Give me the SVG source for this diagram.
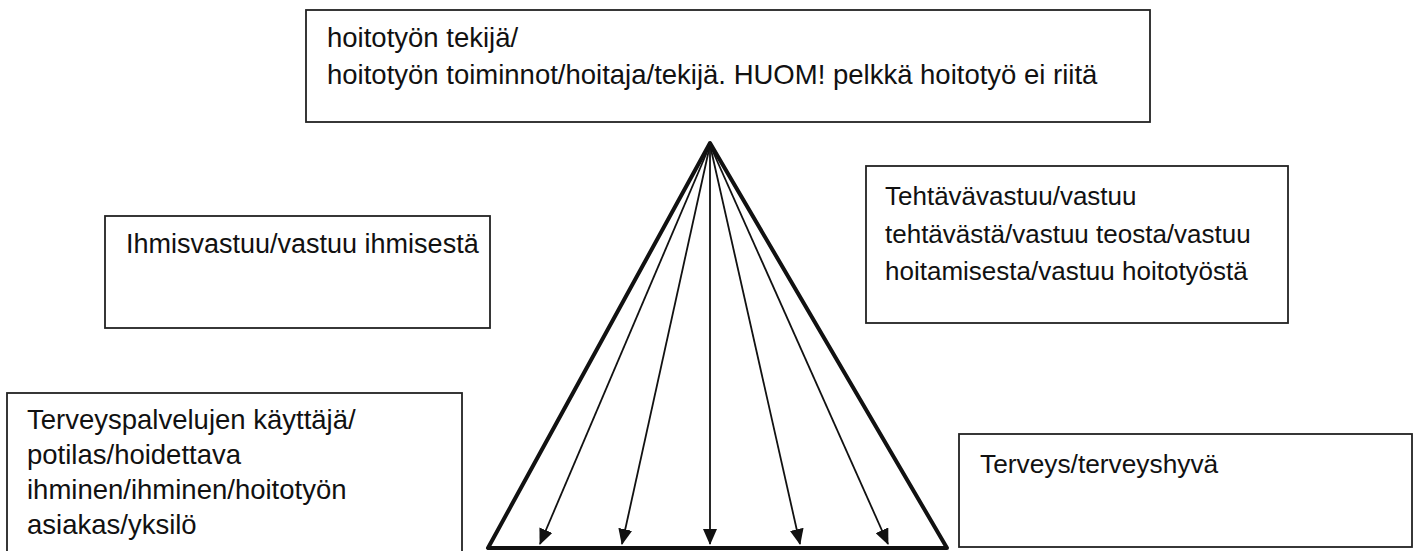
<svg xmlns="http://www.w3.org/2000/svg" width="1421" height="551" viewBox="0 0 1421 551">
  <style>
    .box { fill: #ffffff; stroke: #222; stroke-width: 1.8; }
    .t { font-family: "Liberation Sans", Arial, sans-serif; fill: #111; }
    .edge { stroke: #111; stroke-width: 4; fill: none; stroke-linecap: round; stroke-linejoin: round; }
    .arrow { stroke: #111; stroke-width: 1.8; fill: none; }
  </style>
  <defs>
    <marker id="ah" markerWidth="16" markerHeight="14" refX="15" refY="7" orient="auto" markerUnits="userSpaceOnUse">
      <path d="M0,0 L16,7 L0,14 Z" fill="#111"/>
    </marker>
  </defs>
  <rect width="1421" height="551" fill="#ffffff"/>

  <g id="node-tekija">
    <rect class="box" x="306" y="10" width="844" height="112"/>
    <text class="t" x="327" y="47" font-size="27.5">hoitotyön tekijä/</text>
    <text class="t" x="327" y="84" font-size="27.5">hoitotyön toiminnot/hoitaja/tekijä. HUOM! pelkkä hoitotyö ei riitä</text>
  </g>

  <g id="node-ihmisvastuu">
    <rect class="box" x="105" y="216" width="385" height="112"/>
    <text class="t" x="126" y="253" font-size="27">Ihmisvastuu/vastuu ihmisestä</text>
  </g>

  <g id="node-tehtavavastuu">
    <rect class="box" x="866" y="166" width="422" height="157"/>
    <text class="t" x="885" y="205" font-size="26">Tehtävävastuu/vastuu</text>
    <text class="t" x="885" y="243" font-size="26">tehtävästä/vastuu teosta/vastuu</text>
    <text class="t" x="885" y="280" font-size="26">hoitamisesta/vastuu hoitotyöstä</text>
  </g>

  <g id="node-kayttaja">
    <rect class="box" x="7" y="393" width="455" height="165"/>
    <text class="t" x="27" y="429" font-size="27.5">Terveyspalvelujen käyttäjä/</text>
    <text class="t" x="27" y="464" font-size="27.5">potilas/hoidettava</text>
    <text class="t" x="27" y="499" font-size="27.5">ihminen/ihminen/hoitotyön</text>
    <text class="t" x="27" y="534" font-size="27.5">asiakas/yksilö</text>
  </g>

  <g id="node-terveys">
    <rect class="box" x="959" y="434" width="453" height="113"/>
    <text class="t" x="980" y="473" font-size="26.3">Terveys/terveyshyvä</text>
  </g>

  <g id="node-triangle">
    <path class="edge" d="M710,143 L488,548 L947,548 Z"/>
  </g>

  <g id="connectors">
    <line class="arrow" x1="710" y1="145" x2="540" y2="544" marker-end="url(#ah)"/>
    <line class="arrow" x1="710" y1="145" x2="622" y2="544" marker-end="url(#ah)"/>
    <line class="arrow" x1="710" y1="145" x2="710" y2="544" marker-end="url(#ah)"/>
    <line class="arrow" x1="710" y1="145" x2="800" y2="544" marker-end="url(#ah)"/>
    <line class="arrow" x1="710" y1="145" x2="888" y2="544" marker-end="url(#ah)"/>
  </g>
</svg>
